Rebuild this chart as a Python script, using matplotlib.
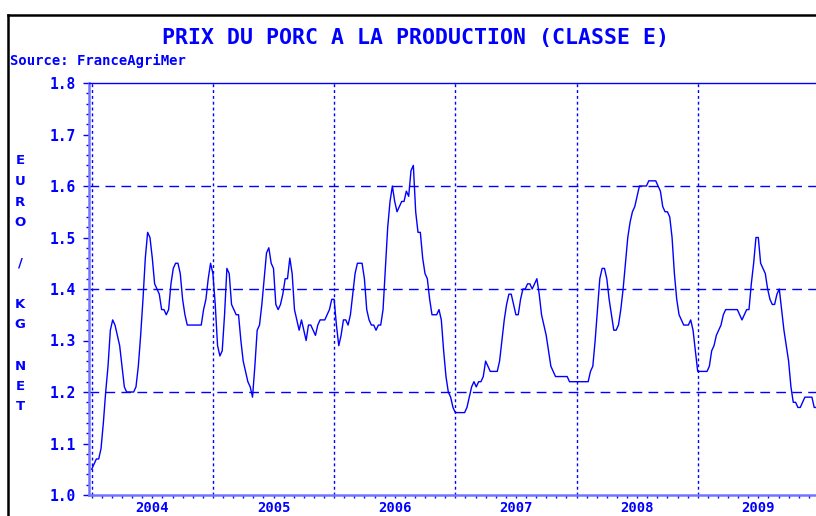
import matplotlib
matplotlib.use("Agg")
import matplotlib.pyplot as plt
from matplotlib.lines import Line2D
from matplotlib.ticker import MultipleLocator
import numpy as np

# weekly prices, euro / kg net (52 weeks per year)
p2004 = [1.05, 1.06, 1.07, 1.07, 1.09, 1.14, 1.20, 1.25, 1.32, 1.34, 1.33, 1.31, 1.29,
         1.25, 1.21, 1.20, 1.20, 1.20, 1.20, 1.21, 1.25, 1.31, 1.38, 1.46, 1.51, 1.50,
         1.46, 1.41, 1.40, 1.39, 1.36, 1.36, 1.35, 1.36, 1.41, 1.44, 1.45, 1.45, 1.43,
         1.38, 1.35, 1.33, 1.33, 1.33, 1.33, 1.33, 1.33, 1.33, 1.36, 1.38, 1.42, 1.45]
p2005 = [1.43, 1.37, 1.29, 1.27, 1.28, 1.35, 1.44, 1.43, 1.37, 1.36, 1.35, 1.35, 1.30,
         1.26, 1.24, 1.22, 1.21, 1.19, 1.25, 1.32, 1.33, 1.37, 1.42, 1.47, 1.48, 1.45,
         1.44, 1.37, 1.36, 1.37, 1.39, 1.42, 1.42, 1.46, 1.43, 1.36, 1.34, 1.32, 1.34,
         1.32, 1.30, 1.33, 1.33, 1.32, 1.31, 1.33, 1.34, 1.34, 1.34, 1.35, 1.36, 1.38]
p2006 = [1.38, 1.33, 1.29, 1.31, 1.34, 1.34, 1.33, 1.35, 1.39, 1.43, 1.45, 1.45, 1.45,
         1.42, 1.36, 1.34, 1.33, 1.33, 1.32, 1.33, 1.33, 1.36, 1.44, 1.52, 1.57, 1.60,
         1.57, 1.55, 1.56, 1.57, 1.57, 1.59, 1.58, 1.63, 1.64, 1.55, 1.51, 1.51, 1.46,
         1.43, 1.42, 1.38, 1.35, 1.35, 1.35, 1.36, 1.34, 1.28, 1.23, 1.20, 1.19, 1.17]
p2007 = [1.16, 1.16, 1.16, 1.16, 1.16, 1.17, 1.19, 1.21, 1.22, 1.21, 1.22, 1.22, 1.23,
         1.26, 1.25, 1.24, 1.24, 1.24, 1.24, 1.26, 1.30, 1.34, 1.37, 1.39, 1.39, 1.37,
         1.35, 1.35, 1.38, 1.40, 1.40, 1.41, 1.41, 1.40, 1.41, 1.42, 1.39, 1.35, 1.33,
         1.31, 1.28, 1.25, 1.24, 1.23, 1.23, 1.23, 1.23, 1.23, 1.23, 1.22, 1.22, 1.22]
p2008 = [1.22, 1.22, 1.22, 1.22, 1.22, 1.22, 1.24, 1.25, 1.30, 1.36, 1.42, 1.44, 1.44,
         1.42, 1.38, 1.35, 1.32, 1.32, 1.33, 1.36, 1.40, 1.45, 1.50, 1.53, 1.55, 1.56,
         1.58, 1.60, 1.60, 1.60, 1.60, 1.61, 1.61, 1.61, 1.61, 1.60, 1.59, 1.56, 1.55,
         1.55, 1.54, 1.50, 1.43, 1.38, 1.35, 1.34, 1.33, 1.33, 1.33, 1.34, 1.32, 1.28]
p2009 = [1.24, 1.24, 1.24, 1.24, 1.24, 1.25, 1.28, 1.29, 1.31, 1.32, 1.33, 1.35, 1.36,
         1.36, 1.36, 1.36, 1.36, 1.36, 1.35, 1.34, 1.35, 1.36, 1.36, 1.41, 1.45, 1.50,
         1.50, 1.45, 1.44, 1.43, 1.40, 1.38, 1.37, 1.37, 1.39, 1.40, 1.36, 1.32, 1.29,
         1.26, 1.21, 1.18, 1.18, 1.17, 1.17, 1.18, 1.19, 1.19, 1.19, 1.19, 1.17, 1.17]
years = [2004, 2005, 2006, 2007, 2008, 2009]
year_labels = ["2004", "2005", "2006", "2007", "2008", "2009"]
y_ticks = [1.0, 1.1, 1.2, 1.3, 1.4, 1.5, 1.6, 1.7, 1.8]
grid_levels = [1.2, 1.4, 1.6]

BLUE = "#0000ff"
AXBLUE = "#7474ff"
MONO = "DejaVu Sans Mono"

series = [p2004, p2005, p2006, p2007, p2008, p2009]
t = []
v = []
for yr, vals in zip(years, series):
    for k, val in enumerate(vals):
        t.append(yr + k / 52.0)
        v.append(val)

fig = plt.figure(figsize=(8.16, 5.16), dpi=100)
ax = fig.add_axes([88.5 / 816, 21 / 516, 741.5 / 816, 412 / 516])
ax.set_xlim(2004 - 3.2 / 121.2, 2004 - 3.2 / 121.2 + 741.5 / 121.2)
ax.set_ylim(1.0, 1.8)

for lvl in grid_levels:
    ax.axhline(lvl, color=BLUE, lw=1.0, dashes=(7, 4.5), zorder=1)
for yr in years:
    ax.axvline(yr, color=BLUE, lw=1.0, dashes=(2.1, 2.1), zorder=1)

ax.plot(t, v, color=BLUE, lw=1.0, zorder=3)

for side in ["left", "bottom"]:
    ax.spines[side].set_color(AXBLUE)
    ax.spines[side].set_linewidth(1.8)
ax.spines["top"].set_color(BLUE)
ax.spines["top"].set_linewidth(1.0)
ax.spines["right"].set_visible(False)

ax.set_yticks(y_ticks)
ax.set_yticklabels(["%.1f" % y for y in y_ticks])
ax.yaxis.set_minor_locator(MultipleLocator(0.02))
ax.set_xticks([yr + 0.5 for yr in years])
ax.set_xticklabels(year_labels)
ax.set_xticks([yr + m / 12.0 for yr in years for m in range(12)], minor=True)

ax.tick_params(axis="y", which="major", length=4, width=1, color=BLUE, pad=5,
               labelcolor=BLUE, labelsize=10.5)
ax.tick_params(axis="y", which="minor", length=2.5, width=1, color=BLUE)
ax.tick_params(axis="x", which="major", length=2.5, width=1, color=BLUE, pad=1.5,
               labelcolor=BLUE, labelsize=10)
ax.tick_params(axis="x", which="minor", length=2.5, width=1, color=BLUE)
for lab in ax.get_xticklabels() + ax.get_yticklabels():
    lab.set_fontfamily(MONO)
    lab.set_fontweight("bold")

fig.text(416 / 816, 1 - 38 / 516, "PRIX DU PORC A LA PRODUCTION (CLASSE E)",
         ha="center", va="center", color=BLUE, fontsize=15.5, fontweight="bold", family=MONO)
fig.text(10 / 816, 1 - 61 / 516, "Source: FranceAgriMer", ha="left", va="center",
         color=BLUE, fontsize=10, fontweight="bold", family=MONO)
fig.text(20 / 816, 1 - 284 / 516, "E\nU\nR\nO\n\n/\n\nK\nG\n\nN\nE\nT",
         ha="center", va="center", color=BLUE, fontsize=9.5, fontweight="bold",
         family="DejaVu Sans", linespacing=1.75)

# page frame
fig.add_artist(Line2D([7.5 / 816, 7.5 / 816], [0, 1 - 14.5 / 516], color="black",
                      lw=1.8, transform=fig.transFigure))
fig.add_artist(Line2D([7.5 / 816, 1], [1 - 14.5 / 516, 1 - 14.5 / 516], color="black",
                      lw=1.8, transform=fig.transFigure))

fig.savefig("out.png", dpi=100)
